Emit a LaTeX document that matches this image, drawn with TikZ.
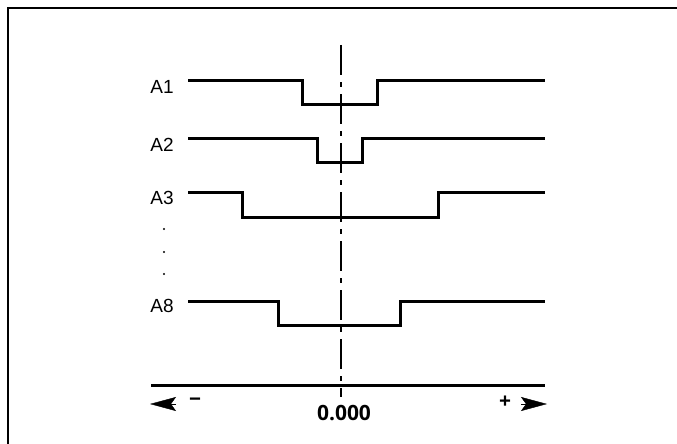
\documentclass[tikz,border=0pt]{standalone}
\usepackage{fontspec}
\setmainfont{Liberation Sans}
\newfontfamily\scalefont{Open Sans}
\usetikzlibrary{arrows.meta}
\tikzset{
  trace/.style={line width=3pt, line join=miter},
  axisline/.style={line width=3pt},
  centreline/.style={line width=2.5pt, dash pattern=on 30pt off 7pt on 5pt off 7pt},
  siglabel/.style={font=\fontsize{19}{19}\selectfont, inner sep=0pt},
  scalelabel/.style={font=\scalefont\bfseries\fontsize{21}{21}\selectfont, inner sep=0pt},
  dirarrow/.style={line width=0.4pt, -{Stealth[length=26pt, width=14pt, inset=5pt]}},
}
\begin{document}
\begin{tikzpicture}[x=1pt, y=-1pt]
    \useasboundingbox (0,0) rectangle (677,444);
    % frame
    \draw[line width=1.5pt] (8,444) -- (8,8) -- (677,8);
    % zero line
    \coordinate (ztop) at (341,45);
    \coordinate (zbot) at (341,397);
    \draw[centreline] (ztop) -- (zbot);
    % traces
    \node[siglabel] (a1) at (162,87) {A1};
    \draw[trace] (188,80) -| (302,104) -| (377,80) -- (545,80);
    \node[siglabel] (a2) at (162,145) {A2};
    \draw[trace] (188,138) -| (317,162) -| (362,138) -- (545,138);
    \node[siglabel] (a3) at (162,198) {A3};
    \draw[trace] (188,192) -| (242,217) -| (438,192) -- (545,192);
    \foreach \y in {229,252,274}
        \fill (164,\y) circle (1.2pt);
    \node[siglabel] (a8) at (162,306) {A8};
    \draw[trace] (188,301) -| (278,325) -| (400,301) -- (545,301);
    % scale
    \draw[axisline] (151,385) -- (545,385);
    \coordinate (ltip) at (150,404);
    \coordinate (lback) at (176,404);
    \coordinate (rtip) at (547,404);
    \coordinate (rback) at (521,404);
    \draw[dirarrow] (lback) -- (ltip);
    \draw[dirarrow] (rback) -- (rtip);
    \node[scalelabel] (minus) at (195,402) {−};
    \node[scalelabel] (plus) at (505,402) {+};
    \node[scalelabel] (zero) at (344,413) {0.000};
\end{tikzpicture}
\end{document}
